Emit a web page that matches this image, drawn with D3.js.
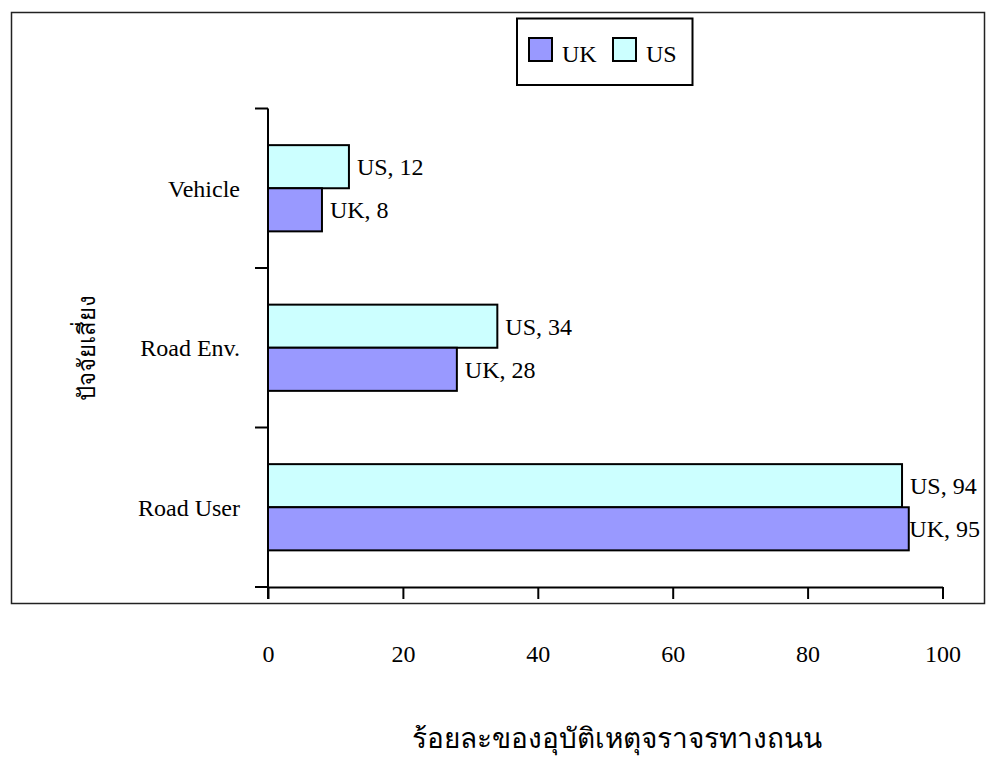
<!DOCTYPE html>
<html>
<head>
<meta charset="utf-8">
<script src="https://cdn.jsdelivr.net/npm/d3@7"></script>
<style>
html,body{margin:0;padding:0;background:#fff;}
svg text{font-family:"Liberation Serif","Times New Roman",serif;fill:#000;}
</style>
</head>
<body>
<svg id="chart" width="986" height="758"></svg>
<script>
const categories = ["Vehicle", "Road Env.", "Road User"];
const seriesNames = ["UK", "US"];
const ukValues = [8, 28, 95];
const usValues = [12, 34, 94];
const xTicks = [0, 20, 40, 60, 80, 100];
const xTitle = "ร้อยละของอุบัติเหตุจราจรทางถนน";
const yTitle = "ปัจจัยเสี่ยง";
const colors = {UK: "#9999FF", US: "#CCFFFF"};

const svg = d3.select("#chart");

// outer chart border
svg.append("rect").attr("x", 11.5).attr("y", 12.5).attr("width", 973).attr("height", 591)
  .attr("fill", "none").attr("stroke", "#222").attr("stroke-width", 1.5);

const x = d3.scaleLinear().domain([0, 100]).range([268, 942.5]);
const y = d3.scaleBand().domain(categories).range([108.5, 587]).paddingInner(0).paddingOuter(0);
const ySub = d3.scaleBand().domain(["US", "UK"]).range([0, y.bandwidth()]).paddingInner(0).paddingOuter(0.85);

const data = categories.map((c, i) => ({cat: c, UK: ukValues[i], US: usValues[i]}));

// bars
const groups = svg.append("g").selectAll("g").data(data).join("g")
  .attr("transform", d => `translate(0,${y(d.cat)})`);

groups.selectAll("rect").data(d => ["US", "UK"].map(s => ({s, v: d[s]}))).join("rect")
  .attr("x", x(0))
  .attr("y", d => ySub(d.s))
  .attr("width", d => x(d.v) - x(0))
  .attr("height", ySub.bandwidth())
  .attr("fill", d => colors[d.s])
  .attr("stroke", "#000").attr("stroke-width", 2);

// data labels
groups.selectAll("text.lbl").data(d => ["US", "UK"].map(s => ({s, v: d[s]}))).join("text")
  .attr("class", "lbl")
  .attr("font-size", 24)
  .attr("dy", "0.36em")
  .attr("y", d => ySub(d.s) + ySub.bandwidth() / 2)
  .text(d => `${d.s}, ${d.v}`)
  .attr("x", function(d) {
    const w = this.getComputedTextLength();
    return Math.min(x(d.v) + 8, 980 - w);
  });

// x axis
const xAxis = svg.append("g").attr("transform", `translate(0,587)`)
  .call(d3.axisBottom(x).tickValues(xTicks).tickSize(12).tickSizeOuter(0).tickPadding(46).tickFormat(d3.format("d")));
xAxis.select(".domain").attr("stroke", "#000").attr("stroke-width", 2);
xAxis.selectAll(".tick line").attr("stroke", "#000").attr("stroke-width", 2);
xAxis.selectAll(".tick text").attr("font-size", 24).attr("font-family", "Liberation Serif, serif").attr("fill", "#000");

// y axis line
svg.append("line").attr("x1", x(0)).attr("x2", x(0)).attr("y1", y.range()[0]).attr("y2", 599)
  .attr("stroke", "#000").attr("stroke-width", 2);
// y ticks at category boundaries
const bounds = categories.map(c => y(c)).concat([y(categories[categories.length - 1]) + y.bandwidth()]);
svg.append("g").selectAll("line").data(bounds).join("line")
  .attr("x1", x(0) - 13).attr("x2", x(0)).attr("y1", d => d).attr("y2", d => d)
  .attr("stroke", "#000").attr("stroke-width", 2);
// category labels
svg.append("g").selectAll("text").data(categories).join("text")
  .attr("x", 240).attr("y", d => y(d) + y.bandwidth() / 2).attr("dy", "0.36em")
  .attr("text-anchor", "end").attr("font-size", 24).text(d => d);

// y title
svg.append("text").attr("transform", "translate(95,348) rotate(-90)")
  .attr("text-anchor", "middle").attr("font-size", 24).text(yTitle);

// x title
svg.append("text").attr("x", 617).attr("y", 748).attr("text-anchor", "middle")
  .attr("font-size", 28).text(xTitle);

// legend
const lg = svg.append("g");
lg.append("rect").attr("x", 517).attr("y", 18.5).attr("width", 175.5).attr("height", 66.5)
  .attr("fill", "#fff").attr("stroke", "#000").attr("stroke-width", 2);
const legendX = {UK: 529, US: 613};
seriesNames.forEach(s => {
  lg.append("rect").attr("x", legendX[s]).attr("y", 38).attr("width", 23).attr("height", 23)
    .attr("fill", colors[s]).attr("stroke", "#000").attr("stroke-width", 2);
  lg.append("text").attr("x", legendX[s] + 33).attr("y", 61.5).attr("font-size", 24).text(s);
});
</script>
</body>
</html>
